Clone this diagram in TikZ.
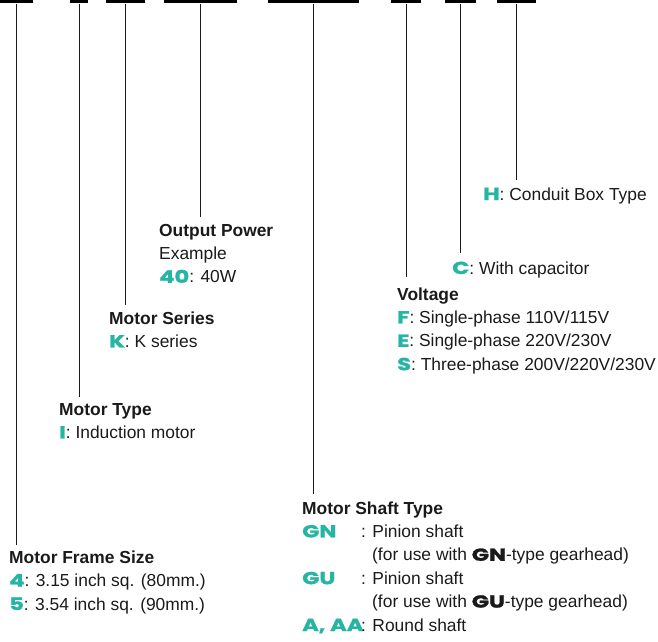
\documentclass[tikz,border=0pt]{standalone}
\usepackage{fontspec}
\setmainfont{Liberation Sans}
\newfontfamily\codefont{Poppins}[FakeStretch=1.3, BoldFeatures={FakeBold=1.5}]
\usetikzlibrary{positioning}

\definecolor{codeteal}{HTML}{26B5A2}  % teal code letters
\definecolor{inkblack}{HTML}{1A1A1A}  % text and leads

\newcommand{\code}[1]{{\codefont\bfseries\color{codeteal}#1}}
\newcommand{\gear}[1]{{\codefont\bfseries #1}}

\begin{document}
\begin{tikzpicture}[
    x=1pt, y=-1pt,
    line cap=butt,
    bar/.style={fill=black, draw=none, inner sep=0pt, minimum height=3.3pt},
    lead/.style={line width=0.9pt, inkblack},
    txt/.style={anchor=base west, align=left, inner sep=0pt, text=inkblack,
        font=\fontsize{17.4}{23.4}\selectfont}
]

\useasboundingbox (0,0) rectangle (658,641);

% -------------------------------------------------
% Code bars along the top, with their leads
% -------------------------------------------------
\foreach \nm/\xl/\xr/\ye in {frame/0/33/545, mtype/70/88/397,
    series/106/145/305, power/164/237/217, shaft/268/359/494,
    volt/391/421/277, cap/445/476/253, box/497/536/180} {
    \node[bar, minimum width={(\xr-\xl)*1pt}] (\nm) at ({(\xl+\xr)/2},1.65) {};
    \coordinate (\nm-end) at ({(\xl+\xr)/2},\ye);
    \draw[lead] (\nm.south) -- (\nm-end);
}

% -------------------------------------------------
% Labels (placed at the baseline of their last line)
% -------------------------------------------------
\node[txt] (frame-lbl) at (9,610)
{\textbf{Motor Frame Size}\\
 \code{4}: 3.15 inch sq. (80mm.)\\
 \code{5}: 3.54 inch sq. (90mm.)};

\node[txt] (mtype-lbl) at (59,438.4)
{\textbf{Motor Type}\\
 \code{I}: Induction motor};

\node[txt] (series-lbl) at (109,347.4)
{\textbf{Motor Series}\\
 \code{K}: K series};

\node[txt] (power-lbl) at (159,282.8)
{\textbf{Output Power}\\
 Example\\
 \code{40}: 40W};

\node[txt] (shaft-lbl) at (302,631)
{\textbf{Motor Shaft Type}\\
 \makebox[59pt][l]{\code{GN}}: Pinion shaft\\
 \hspace*{70pt}(for use with \gear{GN}-type gearhead)\\
 \makebox[59pt][l]{\code{GU}}: Pinion shaft\\
 \hspace*{70pt}(for use with \gear{GU}-type gearhead)\\
 \makebox[59pt][l]{\code{A, AA}}: Round shaft};

\node[txt] (volt-lbl) at (397,370.2)
{\textbf{Voltage}\\
 \code{F}: Single-phase 110V/115V\\
 \code{E}: Single-phase 220V/230V\\
 \code{S}: Three-phase 200V/220V/230V};

\node[txt] (cap-lbl) at (452,274)
{\code{C}: With capacitor};

\node[txt] (box-lbl) at (483,200)
{\code{H}: Conduit Box Type};

\end{tikzpicture}
\end{document}
